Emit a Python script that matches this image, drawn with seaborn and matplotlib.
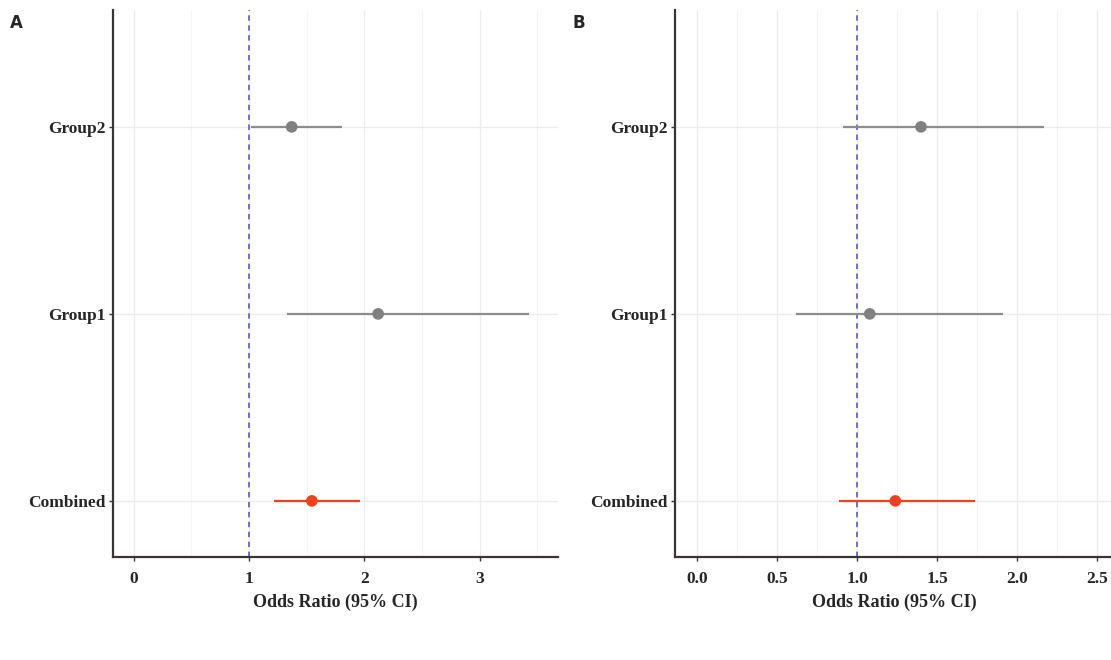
import numpy as np
import pandas as pd
import matplotlib.pyplot as plt
import seaborn as sns
from matplotlib.ticker import MultipleLocator

# Forest plot data
groups = ["Combined", "Group1", "Group2"]

or_a = [1.545, 2.12, 1.37]
lo_a = [1.22, 1.33, 1.02]
hi_a = [1.965, 3.43, 1.81]

or_b = [1.24, 1.08, 1.40]
lo_b = [0.89, 0.62, 0.91]
hi_b = [1.74, 1.91, 2.17]

colors = ["#f2401c", "#808080", "#808080"]
line_colors = ["#f2401c", "#8c8c8c", "#8c8c8c"]

sns.set_theme(style="white")
plt.rcParams["font.family"] = ["Liberation Serif", "DejaVu Serif"]

fig = plt.figure(figsize=(11.11, 6.6), dpi=100)
ax_a = fig.add_axes([113 / 1111, 103 / 660, 445 / 1111, 547 / 660])
ax_b = fig.add_axes([675 / 1111, 103 / 660, 438 / 1111, 547 / 660])


def forest(ax, est, lo, hi, xlim, major, minor):
    df = pd.DataFrame({"group": groups, "or": est, "lo": lo, "hi": hi})
    df["y"] = np.arange(len(groups)) + 1
    for spine in ["top", "right"]:
        ax.spines[spine].set_visible(False)
    for spine in ["left", "bottom"]:
        ax.spines[spine].set_color("#3a3434")
        ax.spines[spine].set_linewidth(1.6)
    ax.xaxis.set_major_locator(MultipleLocator(major))
    ax.xaxis.set_minor_locator(MultipleLocator(minor))
    ax.grid(True, which="major", color="#ececec", linewidth=0.9)
    ax.grid(True, which="minor", axis="x", color="#f4f4f4", linewidth=0.6)
    ax.set_axisbelow(True)
    ax.axvline(1, color="#6464d8", linestyle=(0, (3, 2.5)), linewidth=1.3, zorder=2)
    ax.hlines(df["y"], df["lo"], df["hi"], colors=line_colors, linewidth=1.6, zorder=3)
    sns.scatterplot(data=df, x="or", y="y", hue="group", palette=colors,
                    s=70, edgecolor="none", legend=False, ax=ax, zorder=4)
    ax.set_xlim(*xlim)
    ax.set_ylim(0.7, 3.625)
    ax.set_yticks(df["y"])
    ax.set_yticklabels(groups)
    ax.tick_params(axis="both", which="major", length=3, width=1, color="#3a3434",
                   labelsize=12.5, left=True, bottom=True)
    ax.tick_params(axis="y", which="major", pad=2)
    ax.tick_params(axis="x", which="major", pad=7)
    ax.tick_params(axis="x", which="minor", length=0)
    for lab in ax.get_xticklabels() + ax.get_yticklabels():
        lab.set_fontweight("bold")
    ax.set_xlabel("Odds Ratio (95% CI)", fontsize=13, fontweight="bold", labelpad=5)
    ax.set_ylabel("")


forest(ax_a, or_a, lo_a, hi_a, (-0.18, 3.68), 1, 0.5)
forest(ax_b, or_b, lo_b, hi_b, (-0.137, 2.6), 0.5, 0.25)

fig.text(10 / 1111, 1 - 28 / 660, "A", family="DejaVu Sans", fontweight="bold", fontsize=12)
fig.text(572 / 1111, 1 - 28 / 660, "B", family="DejaVu Sans", fontweight="bold", fontsize=12)

fig.savefig("out.png", dpi=100)
